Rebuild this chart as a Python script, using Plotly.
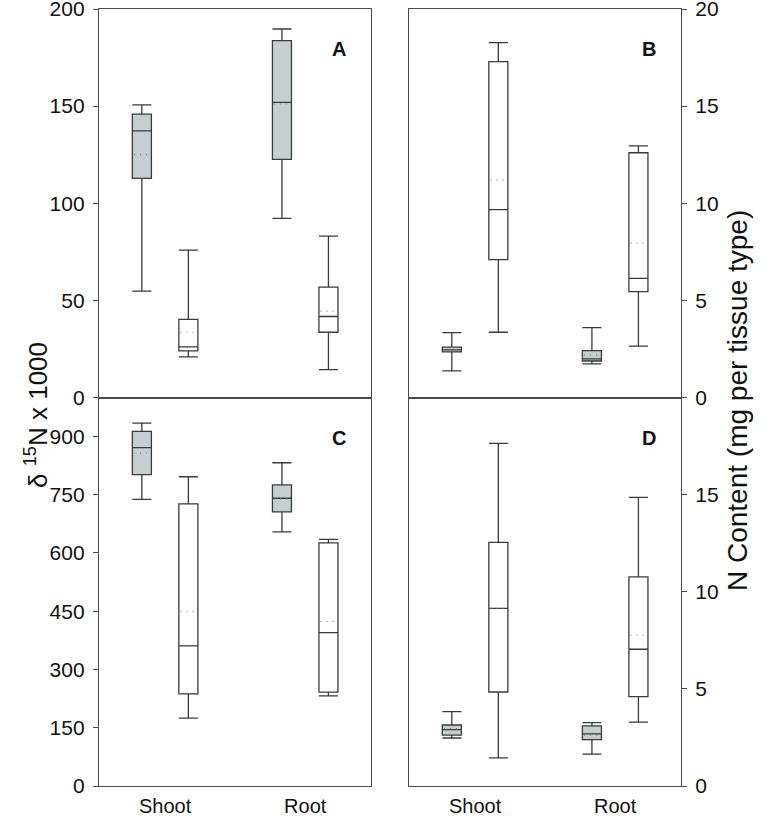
import plotly.graph_objects as go

categories = ["Shoot", "Root"]

# Box statistics: [Shoot, Root]
A_gray = {"lower": [54.8, 92.2], "q1": [112.8, 122.6], "median": [137.3, 151.9],
          "q3": [145.9, 183.7], "upper": [150.6, 189.7], "mean": [125.0, 151.1]}
A_white = {"lower": [20.9, 14.4], "q1": [24.0, 33.6], "median": [26.1, 41.7],
           "q3": [40.2, 56.8], "upper": [75.9, 83.1], "mean": [33.6, 44.5]}
B_gray = {"lower": [1.37, 1.73], "q1": [2.35, 1.88], "median": [2.45, 1.99],
          "q3": [2.59, 2.41], "upper": [3.34, 3.6], "mean": [2.45, 2.19]}
B_white = {"lower": [3.36, 2.64], "q1": [7.1, 5.45], "median": [9.67, 6.13],
           "q3": [17.29, 12.6], "upper": [18.27, 12.95], "mean": [11.2, 7.95]}
C_gray = {"lower": [738, 654], "q1": [801.5, 705.6], "median": [871, 740.7],
          "q3": [913, 775], "upper": [934, 832], "mean": [857, 739]}
C_white = {"lower": [174.7, 232], "q1": [237, 241.5], "median": [360.5, 394.8],
           "q3": [726, 626], "upper": [796, 635], "mean": [449, 424]}
D_gray = {"lower": [2.47, 1.64], "q1": [2.62, 2.39], "median": [2.90, 2.68],
          "q3": [3.14, 3.10], "upper": [3.83, 3.26], "mean": [2.95, 2.62]}
D_white = {"lower": [1.45, 3.29], "q1": [4.84, 4.60], "median": [9.14, 7.04],
           "q3": [12.54, 10.77], "upper": [17.64, 14.86], "mean": [9.14, 7.76]}

A_ticks = [0, 50, 100, 150, 200]
B_ticks = [0, 5, 10, 15, 20]
C_ticks = [0, 150, 300, 450, 600, 750, 900]
D_ticks = [0, 5, 10, 15]

FONT = "Arial, Liberation Sans, Helvetica, sans-serif"
LINE = "#3a3a3a"
GRAY_FILL = "#c4cfcf"
OFFSET = 0.166
BOXW = 0.136

fig = go.Figure()

panels = [
    ("x", "y", A_gray, A_white),
    ("x2", "y2", B_gray, B_white),
    ("x3", "y3", C_gray, C_white),
    ("x4", "y4", D_gray, D_white),
]

base = [i + 1 for i in range(len(categories))]

for xa, ya, g, w in panels:
    for stats, off, fill in ((g, -OFFSET, GRAY_FILL), (w, OFFSET, "white")):
        xs = [b + off for b in base]
        fig.add_trace(go.Box(
            x=xs, q1=stats["q1"], median=stats["median"], q3=stats["q3"],
            lowerfence=stats["lower"], upperfence=stats["upper"],
            width=BOXW, whiskerwidth=1, fillcolor=fill,
            line=dict(color=LINE, width=1.3), boxpoints=False,
            xaxis=xa, yaxis=ya, showlegend=False, hoverinfo="skip",
        ))
        mx, my = [], []
        for xc, m in zip(xs, stats["mean"]):
            mx += [xc - BOXW / 2 + 0.012, xc + BOXW / 2 - 0.012, None]
            my += [m, m, None]
        fig.add_trace(go.Scatter(
            x=mx, y=my, mode="lines",
            line=dict(color="#808080", width=1.2, dash="1px,5px"),
            xaxis=xa, yaxis=ya, showlegend=False, hoverinfo="skip",
        ))

xr = [0.528, 2.47]
ax_common = dict(showline=True, mirror=True, linecolor="#4a4a4a", linewidth=1.3,
                 showgrid=False, zeroline=False, automargin=False)
tickfont = dict(family=FONT, size=21, color="#111")
xtickfont = dict(family=FONT, size=20, color="#111")
ycommon = dict(ticks="outside", ticklen=5, tickcolor="#4a4a4a", tickfont=tickfont,
               ticklabelstandoff=4, ticklabeloverflow="allow")

xdom_l = [0, 0.4674]
xdom_r = [0.5326, 1]
ydom_t = [0.5, 1]
ydom_b = [0, 0.5]

fig.update_layout(
    width=767, height=816,
    margin=dict(l=99, r=86, t=9, b=30, autoexpand=False),
    paper_bgcolor="white", plot_bgcolor="white",
    font=dict(family=FONT, color="#111"),
    xaxis=dict(domain=xdom_l, anchor="y", range=xr, showticklabels=False, ticks="", **ax_common),
    xaxis2=dict(domain=xdom_r, anchor="y2", range=xr, showticklabels=False, ticks="", **ax_common),
    xaxis3=dict(domain=xdom_l, anchor="y3", range=xr, ticks="", tickvals=base, ticktext=categories,
                tickfont=xtickfont, ticklabelstandoff=2, ticklabeloverflow="allow", **ax_common),
    xaxis4=dict(domain=xdom_r, anchor="y4", range=xr, ticks="", tickvals=base, ticktext=categories,
                tickfont=xtickfont, ticklabelstandoff=2, ticklabeloverflow="allow", **ax_common),
    yaxis=dict(domain=ydom_t, anchor="x", range=[0, 200], tickvals=A_ticks, **ycommon, **ax_common),
    yaxis2=dict(domain=ydom_t, anchor="x2", side="right", range=[0, 20], tickvals=B_ticks,
                **ycommon, **ax_common),
    yaxis3=dict(domain=ydom_b, anchor="x3", range=[0, 1000], tickvals=C_ticks, **ycommon, **ax_common),
    yaxis4=dict(domain=ydom_b, anchor="x4", side="right", range=[0, 20], tickvals=D_ticks,
                **ycommon, **ax_common),
)

for letter, xd, yd in (("A", "x domain", "y domain"), ("B", "x2 domain", "y2 domain"),
                       ("C", "x3 domain", "y3 domain"), ("D", "x4 domain", "y4 domain")):
    fig.add_annotation(text="<b>%s</b>" % letter, xref=xd, yref=yd, x=0.915, y=0.93,
                       showarrow=False, font=dict(family=FONT, size=20, color="#111"))

fig.add_annotation(text="δ <sup>15</sup>N x 1000", xref="paper", yref="paper",
                   x=-0.139, y=0.477, textangle=-90, showarrow=False,
                   font=dict(family=FONT, size=26, color="#111"))
fig.add_annotation(text="N Content (mg per tissue type)", xref="paper", yref="paper",
                   x=1.127, y=0.496, textangle=-90, showarrow=False,
                   font=dict(family=FONT, size=28, color="#111"))

fig.write_html("out.html", config={"displayModeBar": False},
               post_script="document.body.style.margin='0';")
